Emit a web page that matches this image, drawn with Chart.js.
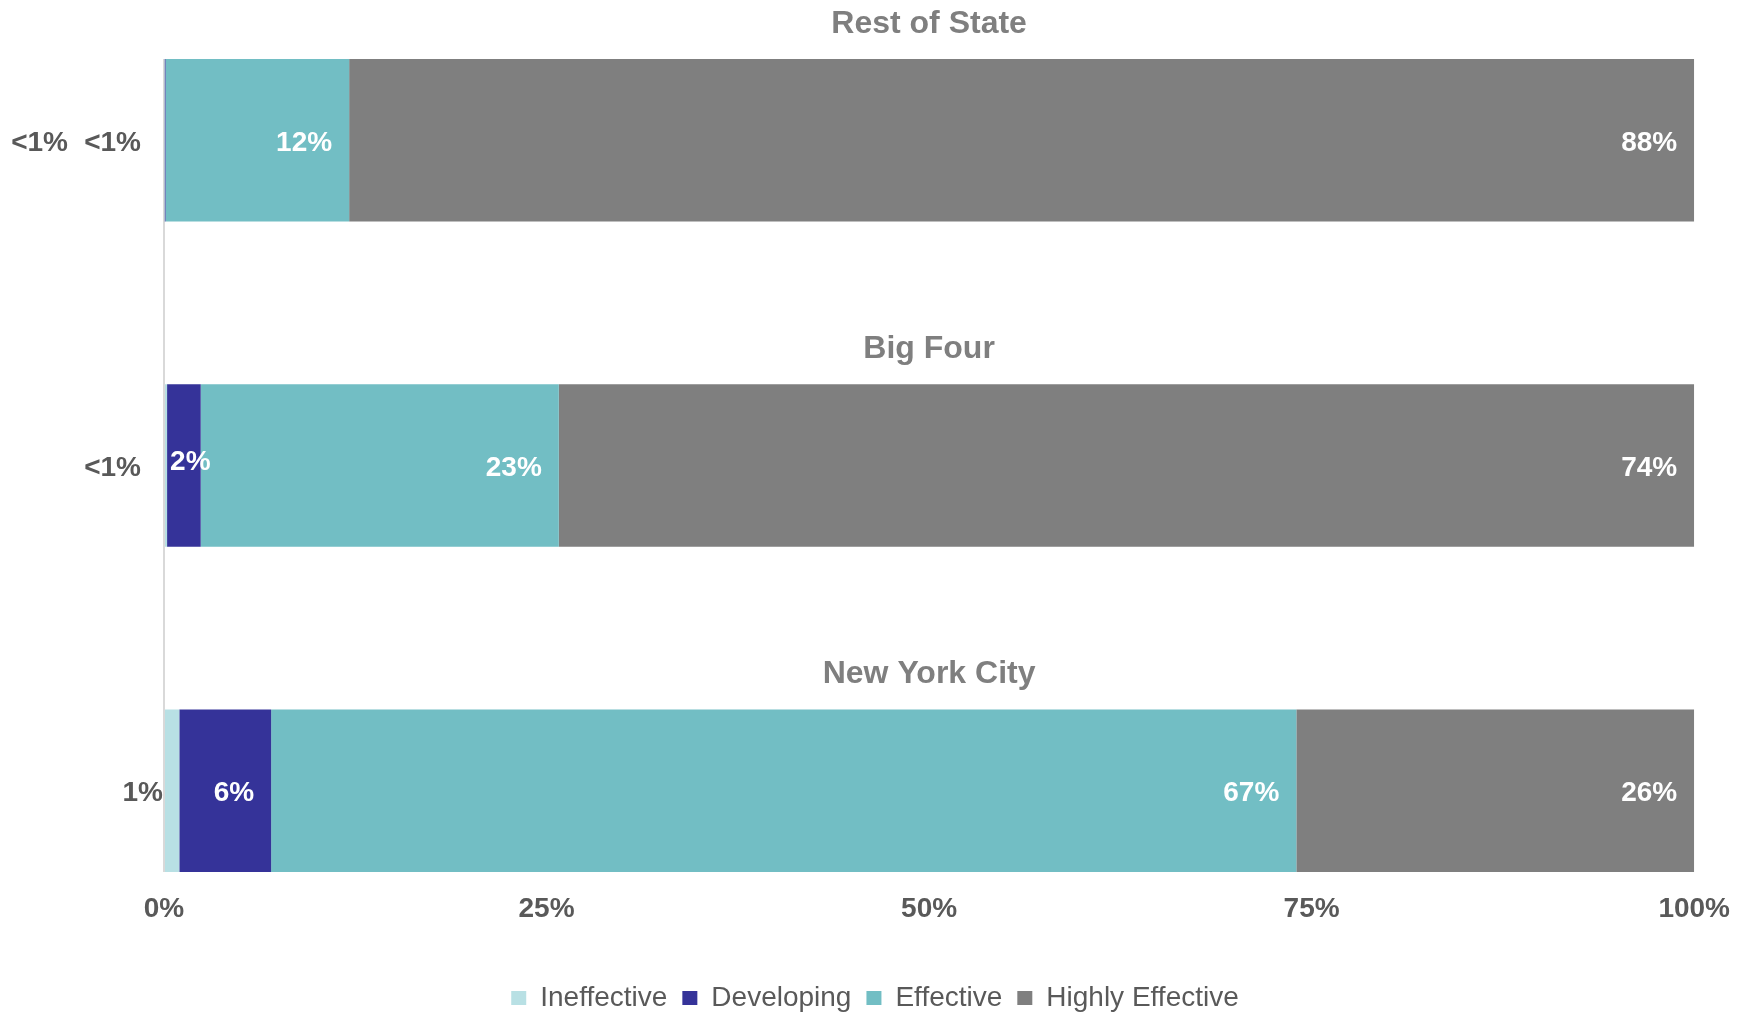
<!DOCTYPE html>
<html>
<head>
<meta charset="utf-8">
<script src="https://cdn.jsdelivr.net/npm/chart.js@4.4.0/dist/chart.umd.min.js"></script>
<style>
  html, body { margin: 0; padding: 0; background: #fff; }
  #wrap { width: 1750px; height: 1013px; position: relative; }
</style>
</head>
<body>
<div id="wrap"><canvas id="chart"></canvas></div>
<script>
// groups, top to bottom
const groups = ["Rest of State", "Big Four", "New York City"];

// share of ratings per group (%)
const ineffective = [0.05, 0.2, 1.0];
const developing = [0.05, 2.2, 6.0];
const effective = [12.0, 23.4, 67.0];
const highlyEffective = [87.9, 74.2, 26.0];

const seriesNames = ["Ineffective", "Developing", "Effective", "Highly Effective"];
const xTicks = [0, 25, 50, 75, 100];

const seriesValues = [ineffective, developing, effective, highlyEffective];
const colors = ["#b8e0e4", "#353399", "#72bec4", "#7f7f7f"];
const FONT = '"Liberation Sans", Arial, sans-serif';

// draws the group titles and the value labels
const labelPlugin = {
  id: "groupLabels",
  afterDatasetsDraw(chart) {
    const ctx = chart.ctx;
    const area = chart.chartArea;
    ctx.save();
    ctx.textBaseline = "middle";

    ctx.font = "bold 32px " + FONT;
    ctx.fillStyle = "#7f7f7f";
    ctx.textAlign = "center";
    const first = chart.getDatasetMeta(0);
    groups.forEach((g, i) => {
      const bar = first.data[i];
      ctx.fillText(g, (area.left + area.right) / 2, bar.y - bar.height / 2 - 35);
    });

    ctx.font = "bold 28px " + FONT;
    const outside = groups.map(() => 0);
    chart.data.datasets.forEach((ds, s) => {
      const meta = chart.getDatasetMeta(s);
      meta.data.forEach((bar, i) => {
        const v = seriesValues[s][i];
        const text = v < 1 ? "<1%" : Math.round(v) + "%";
        const start = Math.min(bar.x, bar.base);
        const end = Math.max(bar.x, bar.base);
        const w = ctx.measureText(text).width;
        const y = bar.y + 3;
        if (v < 1.5) {
          const k = outside[i]++;
          const gap = v < 1 ? 23 : 1;
          ctx.fillStyle = "#595959";
          ctx.textAlign = "right";
          ctx.fillText(text, area.left - gap - k * 73, y);
        } else if (w + 34 > end - start) {
          ctx.fillStyle = "#ffffff";
          ctx.textAlign = "left";
          ctx.fillText(text, start + 3, y - 6);
        } else {
          ctx.fillStyle = "#ffffff";
          ctx.textAlign = "right";
          ctx.fillText(text, end - 17, y);
        }
      });
    });
    ctx.restore();
  }
};

const data = {
  datasets: seriesNames.map((name, s) => ({
    label: name,
    data: seriesValues[s].map((v, i) => ({ x: v, y: i })),
    backgroundColor: colors[s],
    borderWidth: 0,
    categoryPercentage: 1,
    barPercentage: 0.5
  }))
};

const config = {
  type: "bar",
  data: data,
  plugins: [labelPlugin],
  options: {
    indexAxis: "y",
    responsive: true,
    maintainAspectRatio: false,
    animation: false,
    layout: { padding: { top: 59, left: 0, right: 0, bottom: -9 } },
    scales: {
      x: {
        type: "linear",
        stacked: true,
        min: 0,
        max: 100,
        afterBuildTicks: (scale) => { scale.ticks = xTicks.map(v => ({ value: v })); },
        afterFit: (scale) => { scale.height = 97; },
        ticks: {
          callback: (v) => v + "%",
          color: "#595959",
          font: { family: FONT, size: 28, weight: "bold" },
          padding: 20,
          maxRotation: 0
        },
        grid: {
          drawTicks: false,
          lineWidth: 2,
          color: (c) => (c.tick && c.tick.value === 0 ? "#d9d9d9" : "rgba(0,0,0,0)")
        },
        border: { display: false }
      },
      y: {
        type: "linear",
        stacked: true,
        reverse: true,
        offset: false,
        min: -0.25,
        max: 2.25,
        position: "left",
        afterBuildTicks: (scale) => { scale.ticks = groups.map((g, i) => ({ value: i })); },
        afterFit: (scale) => { scale.width = 164; },
        ticks: { display: false },
        grid: { display: false, offset: false },
        border: { display: false }
      },
      yRight: {
        type: "linear",
        position: "right",
        afterFit: (scale) => { scale.width = 54; },
        ticks: { display: false },
        grid: { display: false },
        border: { display: false }
      }
    },
    plugins: {
      tooltip: { enabled: false },
      legend: {
        position: "bottom",
        labels: {
          boxWidth: 15,
          boxHeight: 14,
          padding: 15,
          color: "#595959",
          font: { family: FONT, size: 28 }
        }
      }
    }
  }
};

new Chart(document.getElementById("chart"), config);
</script>
</body>
</html>
